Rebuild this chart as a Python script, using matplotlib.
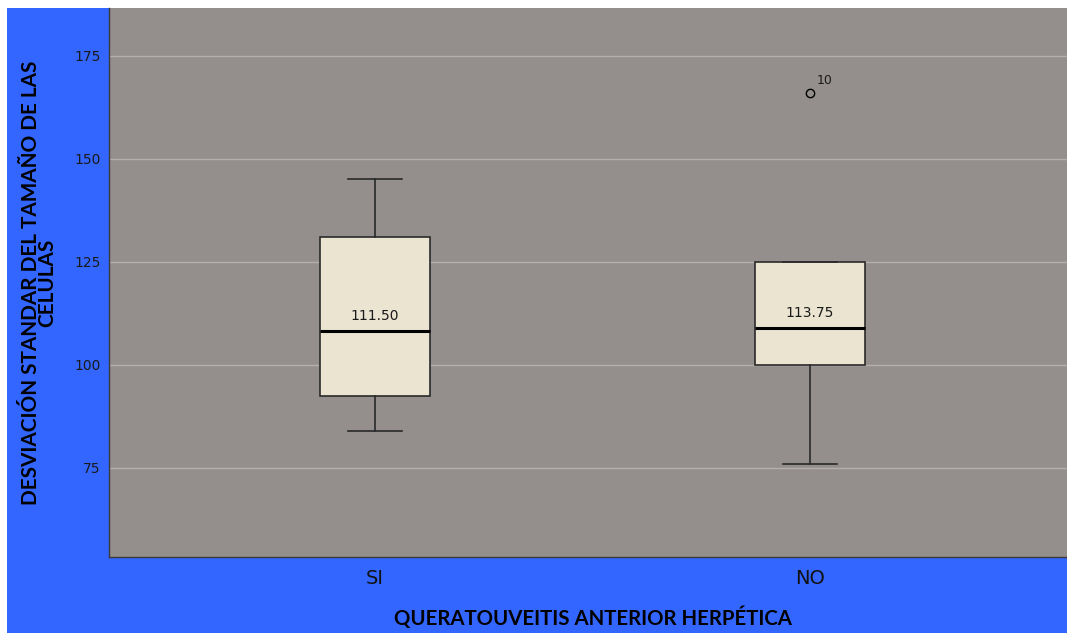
import matplotlib
matplotlib.use("Agg")
import matplotlib.pyplot as plt
from matplotlib import font_manager
from matplotlib.patches import Rectangle

# Summary statistics per group
groups = ["SI", "NO"]
whisker_low = [84.0, 76.0]
q1 = [92.5, 100.0]
medians = [108.2, 109.0]
q3 = [131.0, 125.0]
whisker_high = [145.0, 125.0]
mean_labels = ["111.50", "113.75"]
outliers = [[], [166.0]]
outlier_ids = [[], ["10"]]
yticks = [75, 100, 125, 150, 175]

ylabel_lines = ["DESVIACIÓN STANDAR DEL TAMAÑO DE LAS", "CELULAS"]
xlabel_text = "QUERATOUVEITIS ANTERIOR HERPÉTICA"

names = {f.name for f in font_manager.fontManager.ttflist}
label_font = "Lato" if "Lato" in names else "DejaVu Sans"

W, H = 1067, 633
fig = plt.figure(figsize=(W / 100, H / 100), dpi=100, facecolor="white")
fig.patches.append(Rectangle((7 / W, 0), 1 - 7 / W, (H - 8) / H,
                             transform=fig.transFigure, facecolor="#3366FF",
                             edgecolor="none", zorder=-10))

ax = fig.add_axes([109 / W, (H - 557) / H, 1 - 109 / W, (557 - 8) / H])
ax.set_facecolor("#948F8D")

stats = []
for i, g in enumerate(groups):
    stats.append(dict(label=g, whislo=whisker_low[i], q1=q1[i], med=medians[i],
                      q3=q3[i], whishi=whisker_high[i], fliers=outliers[i]))

positions = list(range(len(groups)))
ax.bxp(stats, positions=positions, widths=0.253, patch_artist=True,
       showfliers=True,
       boxprops=dict(facecolor="#EAE4D1", edgecolor="#2a2a2a", linewidth=1.2),
       medianprops=dict(color="black", linewidth=2.2),
       whiskerprops=dict(color="#2a2a2a", linewidth=1.2),
       capprops=dict(color="#2a2a2a", linewidth=1.2),
       capwidths=0.124,
       flierprops=dict(marker="o", markerfacecolor="none",
                       markeredgecolor="black", markersize=6, markeredgewidth=1.0))

for i, txt in enumerate(mean_labels):
    ax.annotate(txt, xy=(positions[i], medians[i]), xytext=(0, 6),
                textcoords="offset points", ha="center", va="bottom",
                fontsize=10, color="#1a1a1a")

for i, ids in enumerate(outlier_ids):
    for val, lab in zip(outliers[i], ids):
        ax.annotate(lab, xy=(positions[i], val), xytext=(5, 4),
                    textcoords="offset points", ha="left", va="bottom",
                    fontsize=9, color="#1a1a1a")

ax.set_xlim(-0.611, 1.591)
ax.set_ylim(53.4, 186.6)
ax.set_yticks(yticks)
ax.set_yticklabels([str(t) for t in yticks], fontsize=10, color="#1a1a1a")
ax.set_xticks(positions)
ax.set_xticklabels(groups, fontsize=14, color="#111111")
ax.tick_params(axis="both", length=0)
ax.tick_params(axis="y", pad=6)
ax.tick_params(axis="x", pad=9)
ax.grid(axis="y", color="#B3AFAD", linewidth=1.0)
ax.set_axisbelow(True)

for side in ["top", "right"]:
    ax.spines[side].set_visible(False)
for side in ["left", "bottom"]:
    ax.spines[side].set_color("#3a3a3a")
    ax.spines[side].set_linewidth(1.0)


def fitted_size(text, width_px, base=15):
    """Font size that gives the bold label the requested pixel width."""
    t = fig.text(0, 0, text, fontsize=base, fontweight="bold", family=label_font)
    fig.canvas.draw()
    w = t.get_window_extent().width
    t.remove()
    return base * width_px / w


ysize = fitted_size(ylabel_lines[0], 445)
xsize = fitted_size(xlabel_text, 397)

ax.set_ylabel("\n".join(ylabel_lines),
              fontsize=ysize, fontweight="bold", family=label_font,
              linespacing=0.75, color="black")
ax.set_xlabel(xlabel_text,
              fontsize=xsize, fontweight="bold", family=label_font,
              color="black")
ax.yaxis.set_label_coords(-52 / 958, 0.5)
ax.xaxis.set_label_coords(0.505, -50 / 549)

fig.savefig("out.png", dpi=100, facecolor=fig.get_facecolor())
